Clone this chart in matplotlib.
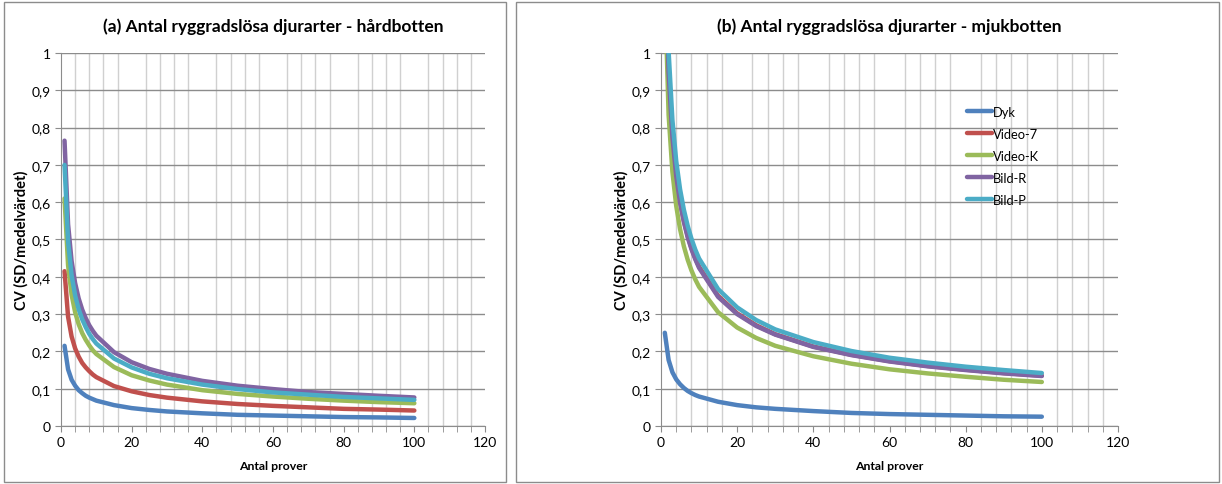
import matplotlib.pyplot as plt
from matplotlib.patches import Rectangle
from matplotlib.ticker import MultipleLocator, FuncFormatter

# Antal prover (sample sizes)
n = [1, 2, 3, 4, 5, 6, 7, 8, 9, 10, 15, 20, 25, 30, 40, 50, 60, 70, 80, 90, 100]

series_names = ['Dyk', 'Video-7', 'Video-K', 'Bild-R', 'Bild-P']
colors = ['#4F81BD', '#C0504D', '#9BBB59', '#8064A2', '#4BACC6']

# (a) hårdbotten
hard_dyk = [0.215, 0.152, 0.124, 0.108, 0.096, 0.088, 0.081, 0.076, 0.072, 0.068,
            0.056, 0.048, 0.043, 0.039, 0.034, 0.030, 0.028, 0.026, 0.024, 0.023, 0.0215]
hard_video7 = [0.415, 0.293, 0.240, 0.208, 0.186, 0.169, 0.157, 0.147, 0.138, 0.131,
               0.107, 0.093, 0.083, 0.076, 0.066, 0.059, 0.054, 0.050, 0.046, 0.044, 0.0415]
hard_videok = [0.61, 0.431, 0.352, 0.305, 0.273, 0.249, 0.231, 0.216, 0.203, 0.193,
               0.158, 0.136, 0.122, 0.111, 0.096, 0.086, 0.079, 0.073, 0.068, 0.064, 0.061]
hard_bildr = [0.765, 0.541, 0.442, 0.383, 0.342, 0.312, 0.289, 0.270, 0.255, 0.242,
              0.198, 0.171, 0.153, 0.140, 0.121, 0.108, 0.099, 0.091, 0.086, 0.081, 0.0765]
hard_bildp = [0.70, 0.495, 0.404, 0.350, 0.313, 0.286, 0.265, 0.247, 0.233, 0.221,
              0.181, 0.157, 0.140, 0.128, 0.111, 0.099, 0.090, 0.084, 0.078, 0.074, 0.070]

# (b) mjukbotten
soft_dyk = [0.25, 0.177, 0.144, 0.125, 0.112, 0.102, 0.094, 0.088, 0.083, 0.079,
            0.065, 0.056, 0.050, 0.046, 0.040, 0.035, 0.032, 0.030, 0.028, 0.026, 0.025]
soft_video7 = [1.35, 0.955, 0.779, 0.675, 0.604, 0.551, 0.510, 0.477, 0.450, 0.427,
               0.349, 0.302, 0.270, 0.246, 0.213, 0.191, 0.174, 0.161, 0.151, 0.142, 0.135]
soft_videok = [1.18, 0.834, 0.681, 0.590, 0.528, 0.482, 0.446, 0.417, 0.393, 0.373,
               0.305, 0.264, 0.236, 0.215, 0.187, 0.167, 0.152, 0.141, 0.132, 0.124, 0.118]
soft_bildr = [1.34, 0.948, 0.774, 0.670, 0.599, 0.547, 0.506, 0.474, 0.447, 0.424,
              0.346, 0.300, 0.268, 0.245, 0.212, 0.190, 0.173, 0.160, 0.150, 0.141, 0.134]
soft_bildp = [1.42, 1.004, 0.820, 0.710, 0.635, 0.580, 0.537, 0.502, 0.473, 0.449,
              0.367, 0.318, 0.284, 0.259, 0.225, 0.201, 0.183, 0.170, 0.159, 0.150, 0.142]

hard = [hard_dyk, hard_video7, hard_videok, hard_bildr, hard_bildp]
soft = [soft_dyk, soft_video7, soft_videok, soft_bildr, soft_bildp]

plt.rcParams['font.family'] = ['Lato', 'DejaVu Sans']

W, H = 1222, 485
fig = plt.figure(figsize=(W / 100, H / 100), dpi=100)

# chart frames
for x0, x1 in [(4, 506), (516, 1219)]:
    fig.patches.append(Rectangle((x0 / W, 2 / H), (x1 - x0) / W, (H - 5) / H,
                                 transform=fig.transFigure, fill=False,
                                 edgecolor='#8c8c8c', linewidth=1))

comma = FuncFormatter(lambda v, p: ('%g' % round(v, 2)).replace('.', ','))


def draw_panel(rect, data, title, legend=False):
    ax = fig.add_axes(rect)
    for vals, name, c in zip(data, series_names, colors):
        ax.plot(n, vals, color=c, linewidth=3.2, label=name,
                solid_capstyle='round', solid_joinstyle='round')
    ax.set_xlim(0, 120)
    ax.set_ylim(0, 1)
    ax.xaxis.set_major_locator(MultipleLocator(20))
    ax.xaxis.set_minor_locator(MultipleLocator(4))
    ax.yaxis.set_major_locator(MultipleLocator(0.1))
    ax.yaxis.set_major_formatter(comma)
    ax.grid(which='minor', axis='x', color='#d0d0d0', linewidth=1)
    ax.grid(which='major', axis='y', color='#8c8c8c', linewidth=1)
    ax.set_axisbelow(True)
    for s in ['top', 'right']:
        ax.spines[s].set_visible(False)
    for s in ['left', 'bottom']:
        ax.spines[s].set_color('#8c8c8c')
    ax.tick_params(which='both', color='#8c8c8c', labelsize=10, direction='out')
    ax.tick_params(which='major', length=4)
    ax.tick_params(which='minor', length=4)
    ax.set_title(title, fontsize=12.5, fontweight='bold', pad=16)
    ax.set_xlabel('Antal prover', fontsize=8.8, fontweight='bold', labelpad=8)
    ax.set_ylabel('CV (SD/medelvärdet)', fontsize=10.5, fontweight='bold',
                  labelpad=2)
    if legend:
        ax.legend(loc='upper left', bbox_to_anchor=(0.645, 0.89), frameon=False,
                  fontsize=9.3, handlelength=1.9, handletextpad=0.1,
                  labelspacing=0.78)
    return ax


draw_panel([61 / W, 58 / H, 424 / W, 373 / H], hard,
           '(a) Antal ryggradslösa djurarter - hårdbotten')
draw_panel([661 / W, 58 / H, 457 / W, 373 / H], soft,
           '(b) Antal ryggradslösa djurarter - mjukbotten', legend=True)

fig.savefig('out.png', dpi=100)
